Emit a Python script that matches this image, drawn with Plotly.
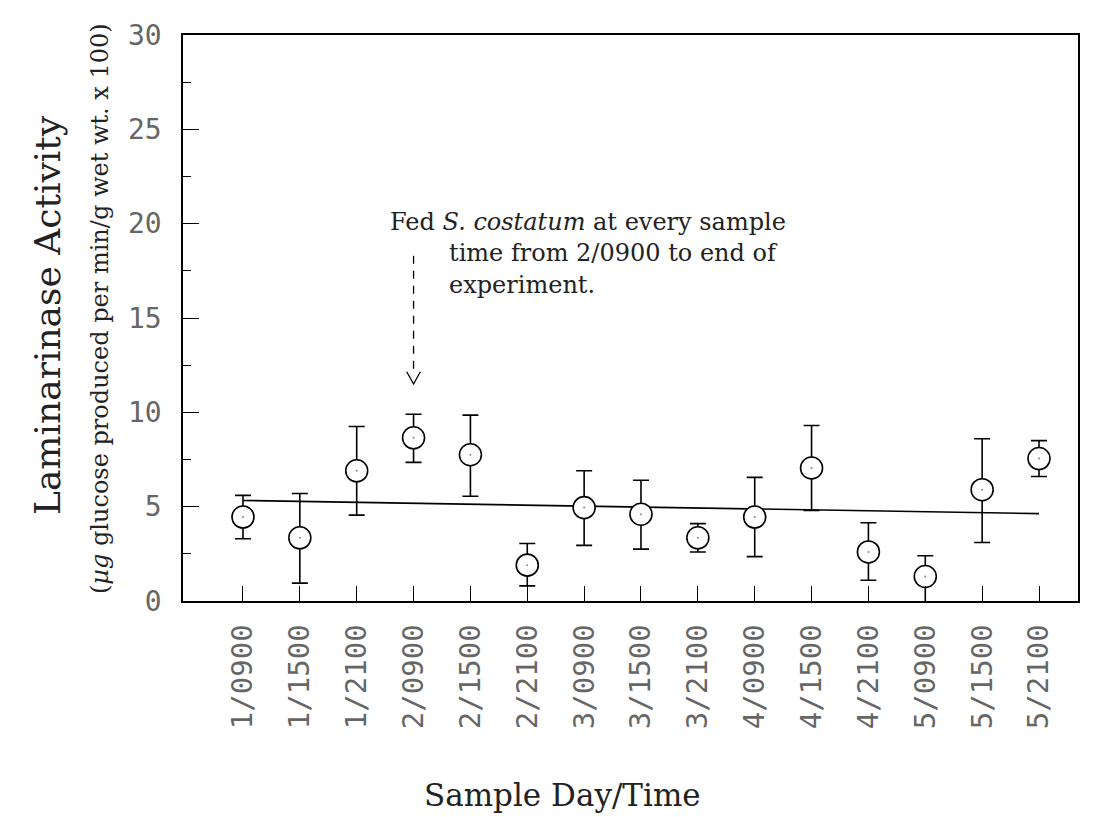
import plotly.graph_objects as go

# ---- data ----
categories = ["1/0900", "1/1500", "1/2100", "2/0900", "2/1500", "2/2100", "3/0900",
              "3/1500", "3/2100", "4/0900", "4/1500", "4/2100", "5/0900", "5/1500", "5/2100"]
means = [4.45, 3.35, 6.9, 8.65, 7.75, 1.9, 4.95, 4.6, 3.35, 4.45, 7.05, 2.6, 1.3, 5.9, 7.55]
upper = [5.6, 5.7, 9.25, 9.9, 9.85, 3.05, 6.9, 6.4, 4.1, 6.55, 9.3, 4.15, 2.4, 8.6, 8.5]
lower = [3.3, 0.95, 4.55, 7.35, 5.55, 0.8, 2.95, 2.75, 2.6, 2.35, 4.8, 1.1, -0.3, 3.1, 6.6]
fit_x = [1, 15]
fit_y = [5.33, 4.63]
y_ticks = [0, 5, 10, 15, 20, 25, 30]

xpos = list(range(1, len(categories) + 1))
err_plus = [u - m for u, m in zip(upper, means)]
err_minus = [m - l for m, l in zip(means, lower)]

fig = go.Figure()

# regression line
fig.add_trace(go.Scatter(x=fit_x, y=fit_y, mode="lines",
                         line=dict(color="black", width=1.6), hoverinfo="skip"))

# points with error bars
fig.add_trace(go.Scatter(
    x=xpos, y=means, mode="markers",
    marker=dict(symbol="circle", size=22, color="white",
                line=dict(color="black", width=1.6)),
    error_y=dict(type="data", symmetric=False, array=err_plus, arrayminus=err_minus,
                 color="black", thickness=1.6, width=8),
))
# tiny center dots
fig.add_trace(go.Scatter(x=xpos, y=means, mode="markers",
                         marker=dict(size=2, color="#888888"), hoverinfo="skip"))

serif = "DejaVu Serif"
mono = "DejaVu Sans Mono"

# dashed arrow (feeding start at 2/0900)
fig.add_shape(type="line", xref="x", yref="y", x0=4, x1=4, y0=18.3, y1=12.2,
              line=dict(color="black", width=1.3, dash="8px,7px"))
fig.add_shape(type="path", xref="x", yref="y",
              path="M 3.88,12.15 L 4,11.5 L 4.12,12.15",
              line=dict(color="black", width=1.3))

# annotation text
ann_font = dict(family=serif, size=24, color="#222")
fig.add_annotation(x=(388 - 183) / 895, y=(601 - 222) / 566, xref="paper", yref="paper",
                   text="Fed <i>S. costatum</i> at every sample", showarrow=False,
                   xanchor="left", yanchor="middle", font=ann_font)
fig.add_annotation(x=(447 - 183) / 895, y=(601 - 253) / 566, xref="paper", yref="paper",
                   text="time from 2/0900 to end of", showarrow=False,
                   xanchor="left", yanchor="middle", font=ann_font)
fig.add_annotation(x=(447 - 183) / 895, y=(601 - 285) / 566, xref="paper", yref="paper",
                   text="experiment.", showarrow=False,
                   xanchor="left", yanchor="middle", font=ann_font)

# axis titles
fig.add_annotation(x=(47 - 183) / 895, y=(601 - 315) / 566, xref="paper", yref="paper",
                   text="Laminarinase Activity", showarrow=False, textangle=-90,
                   xanchor="center", yanchor="middle",
                   font=dict(family=serif, size=36, color="#222"))
fig.add_annotation(x=(100 - 183) / 895, y=(601 - 309) / 566, xref="paper", yref="paper",
                   text="(<i>µg</i> glucose produced per min/g wet wt. x 100)",
                   showarrow=False, textangle=-90,
                   xanchor="center", yanchor="middle",
                   font=dict(family=serif, size=24, color="#222"))
fig.add_annotation(x=(562 - 183) / 895, y=(601 - 795) / 566, xref="paper", yref="paper",
                   text="Sample Day/Time", showarrow=False,
                   xanchor="center", yanchor="middle",
                   font=dict(family=serif, size=31, color="#222"))

fig.update_layout(
    width=1094, height=817,
    margin=dict(l=183, r=16, t=35, b=216),
    paper_bgcolor="white", plot_bgcolor="white",
    showlegend=False,
)
fig.update_xaxes(
    range=[-0.055, 15.686], tickvals=xpos, ticktext=categories, tickangle=-90,
    ticks="inside", ticklen=15, tickwidth=1.3, tickcolor="black",
    showline=True, linecolor="black", linewidth=1.6, mirror=True,
    showgrid=False, zeroline=False, ticklabelstandoff=10,
    tickfont=dict(family=mono, size=29, color="#666"),
)
fig.update_yaxes(
    range=[0, 30], tickvals=y_ticks,
    ticks="inside", ticklen=16, tickwidth=1.3, tickcolor="black",
    minor=dict(dtick=2.5, ticks="inside", ticklen=8, tickwidth=1.3, tickcolor="black"),
    showline=True, linecolor="black", linewidth=1.6, mirror=True,
    showgrid=False, zeroline=False, ticklabelstandoff=14,
    tickfont=dict(family=mono, size=28, color="#666"),
)

fig.write_html("out.html")
